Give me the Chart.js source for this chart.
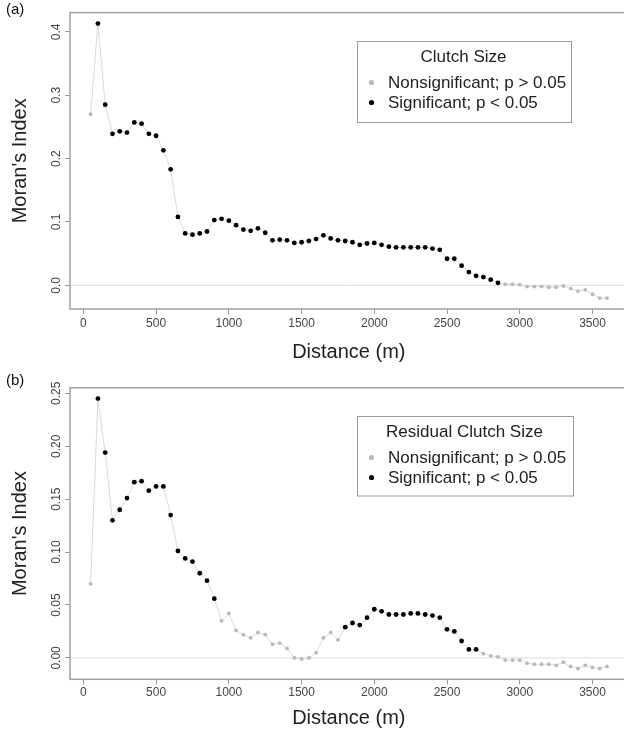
<!DOCTYPE html>
<html>
<head>
<meta charset="utf-8">
<script src="https://cdn.jsdelivr.net/npm/chart.js@4.4.1/dist/chart.umd.min.js"></script>
<style>
  html, body { margin: 0; padding: 0; background: #fff; overflow: hidden; }
  #wrap { position: relative; width: 624px; height: 731px; overflow: hidden; }
  canvas { position: absolute; left: 0; }
  #cA { top: 0; }
  #cB { top: 365px; }
</style>
</head>
<body>
<div id="wrap">
  <canvas id="cA" width="632" height="365"></canvas>
  <canvas id="cB" width="632" height="366"></canvas>
</div>
<script>
// distance classes (m)
const distances = [
  50, 100, 150, 200, 250, 300, 350, 400, 450, 500, 550, 600,
  650, 700, 750, 800, 850, 900, 950, 1000, 1050, 1100, 1150, 1200,
  1250, 1300, 1350, 1400, 1450, 1500, 1550, 1600, 1650, 1700, 1750, 1800,
  1850, 1900, 1950, 2000, 2050, 2100, 2150, 2200, 2250, 2300, 2350, 2400,
  2450, 2500, 2550, 2600, 2650, 2700, 2750, 2800, 2850, 2900, 2950, 3000,
  3050, 3100, 3150, 3200, 3250, 3300, 3350, 3400, 3450, 3500, 3550, 3600
]

// (a) Clutch size
const moranA = [
  0.270, 0.413, 0.285, 0.239, 0.243, 0.241, 0.257, 0.255, 0.239, 0.236, 0.213, 0.183,
  0.108, 0.082, 0.080, 0.082, 0.085, 0.103, 0.105, 0.102, 0.095, 0.088, 0.086, 0.090,
  0.083, 0.071, 0.072, 0.071, 0.067, 0.068, 0.070, 0.073, 0.079, 0.074, 0.071, 0.070,
  0.068, 0.064, 0.066, 0.067, 0.064, 0.061, 0.060, 0.060, 0.060, 0.060, 0.060, 0.058,
  0.056, 0.042, 0.042, 0.031, 0.021, 0.015, 0.013, 0.009, 0.004, 0.002, 0.002, 0.001,
  -0.002, -0.002, -0.002, -0.003, -0.003, -0.001, -0.005, -0.009, -0.007, -0.014, -0.020, -0.020
]
const sigA = [
  0, 1, 1, 1, 1, 1, 1, 1, 1, 1, 1, 1,
  1, 1, 1, 1, 1, 1, 1, 1, 1, 1, 1, 1,
  1, 1, 1, 1, 1, 1, 1, 1, 1, 1, 1, 1,
  1, 1, 1, 1, 1, 1, 1, 1, 1, 1, 1, 1,
  1, 1, 1, 1, 1, 1, 1, 1, 1, 0, 0, 0,
  0, 0, 0, 0, 0, 0, 0, 0, 0, 0, 0, 0
]

// (b) Residual clutch size
const moranB = [
  0.070, 0.245, 0.194, 0.130, 0.140, 0.151, 0.166, 0.167, 0.158, 0.162, 0.162, 0.135,
  0.101, 0.094, 0.091, 0.080, 0.073, 0.056, 0.035, 0.042, 0.026, 0.022, 0.019, 0.024,
  0.022, 0.013, 0.014, 0.009, 0.000, -0.001, 0.000, 0.005, 0.019, 0.024, 0.017, 0.029,
  0.033, 0.031, 0.038, 0.046, 0.044, 0.041, 0.041, 0.041, 0.042, 0.042, 0.041, 0.040,
  0.038, 0.027, 0.025, 0.016, 0.008, 0.008, 0.004, 0.002, 0.001, -0.002, -0.002, -0.002,
  -0.005, -0.006, -0.006, -0.006, -0.007, -0.004, -0.008, -0.010, -0.007, -0.009, -0.010, -0.008
]
const sigB = [
  0, 1, 1, 1, 1, 1, 1, 1, 1, 1, 1, 1,
  1, 1, 1, 1, 1, 1, 0, 0, 0, 0, 0, 0,
  0, 0, 0, 0, 0, 0, 0, 0, 0, 0, 0, 1,
  1, 1, 1, 1, 1, 1, 1, 1, 1, 1, 1, 1,
  1, 1, 1, 1, 1, 1, 0, 0, 0, 0, 0, 0,
  0, 0, 0, 0, 0, 0, 0, 0, 0, 0, 0, 0
]

const xTicks = [0, 500, 1000, 1500, 2000, 2500, 3000, 3500]
const yTicksA = [0, 0.1, 0.2, 0.3, 0.4]
const yTickLabelsA = ['0.0', '0.1', '0.2', '0.3', '0.4']
const yTicksB = [0, 0.05, 0.10, 0.15, 0.20, 0.25]
const yTickLabelsB = ['0.00', '0.05', '0.10', '0.15', '0.20', '0.25']
const legendLabels = ['Nonsignificant; p > 0.05', 'Significant; p < 0.05']

const FONT = '"Liberation Sans", Arial, Helvetica, sans-serif'
const GREY_PT = '#b9b9b9'

// box, zero line, rotated y tick labels, panel tag and legend
const decor = {
  id: 'decor',
  beforeDatasetsDraw(chart) {
    const { ctx, chartArea: a, scales: { y } } = chart
    const zy = y.getPixelForValue(0)
    ctx.save()
    ctx.strokeStyle = '#dedede'
    ctx.lineWidth = 1
    ctx.beginPath()
    ctx.moveTo(a.left, zy)
    ctx.lineTo(a.right, zy)
    ctx.stroke()
    ctx.restore()
  },
  afterDraw(chart, args, o) {
    const { ctx, chartArea: a, scales: { y } } = chart
    ctx.save()
    // plot frame
    ctx.strokeStyle = '#a0a0a0'
    ctx.lineWidth = 1.5
    ctx.strokeRect(a.left, a.top, a.right - a.left, a.bottom - a.top)

    // y tick labels, rotated like R's las = 0
    ctx.fillStyle = '#444'
    ctx.font = '12px ' + FONT
    ctx.textAlign = 'center'
    ctx.textBaseline = 'middle'
    o.yTicks.forEach((v, i) => {
      ctx.save()
      ctx.translate(57, y.getPixelForValue(v))
      ctx.rotate(-Math.PI / 2)
      ctx.fillText(o.yLabels[i], 0, 0)
      ctx.restore()
    })

    // panel tag
    ctx.fillStyle = '#111'
    ctx.font = '15px ' + FONT
    ctx.textAlign = 'left'
    ctx.fillText(o.tag, 6, o.tagY)

    // legend
    const L = o.legend
    ctx.strokeStyle = '#9a9a9a'
    ctx.lineWidth = 1
    ctx.fillStyle = '#fff'
    ctx.fillRect(L.x, L.y, L.w, L.h)
    ctx.strokeRect(L.x, L.y, L.w, L.h)
    ctx.fillStyle = '#222'
    ctx.font = '17px ' + FONT
    ctx.textAlign = 'center'
    ctx.fillText(L.title, L.x + L.w / 2 - 1, L.y + 16)
    ctx.textAlign = 'left'
    const colors = [GREY_PT, '#000']
    legendLabels.forEach((t, i) => {
      const ry = L.y + 41 + i * 20
      ctx.fillStyle = colors[i]
      ctx.beginPath()
      ctx.arc(L.x + 14, ry, 2.6, 0, Math.PI * 2)
      ctx.fill()
      ctx.fillStyle = '#222'
      ctx.fillText(t, L.x + 30.5, ry + 1)
    })
    ctx.restore()
  }
}

function makePanel(canvasId, values, sig, yMin, yMax, top, axisH, tickPad, yTicks, yLabels, opts) {
  const pts = distances.map((d, i) => ({ x: d, y: values[i] }))
  return new Chart(document.getElementById(canvasId), {
    type: 'scatter',
    data: {
      datasets: [{
        data: pts,
        showLine: true,
        borderColor: '#dadada',
        borderWidth: 1,
        pointBackgroundColor: sig.map(s => s ? '#000' : GREY_PT),
        pointBorderWidth: 0,
        pointRadius: sig.map(s => s ? 2.4 : 1.9)
      }]
    },
    options: {
      responsive: false,
      animation: false,
      devicePixelRatio: 1,
      events: [],
      layout: { padding: { top: top, right: 4.3, left: 0, bottom: 0 } },
      plugins: {
        legend: { display: false },
        tooltip: { enabled: false },
        decor: Object.assign({ yTicks: yTicks, yLabels: yLabels }, opts)
      },
      scales: {
        x: {
          type: 'linear',
          min: -92,
          max: 3742,
          afterBuildTicks: s => { s.ticks = xTicks.map(v => ({ value: v })) },
          afterFit: s => { s.height = axisH },
          border: { display: false },
          grid: { drawOnChartArea: false, drawTicks: true, tickLength: 5, color: '#999' },
          ticks: {
            color: '#444',
            font: { family: FONT, size: 12 },
            padding: tickPad,
            maxRotation: 0,
            callback: v => String(v)
          },
          title: {
            display: true,
            text: 'Distance (m)',
            color: '#222',
            font: { family: FONT, size: 20, lineHeight: 1 },
            padding: { top: 0, bottom: 3 }
          }
        },
        y: {
          type: 'linear',
          min: yMin,
          max: yMax,
          afterBuildTicks: s => { s.ticks = yTicks.map(v => ({ value: v })) },
          afterFit: s => { s.width = 70 },
          border: { display: false },
          grid: { drawOnChartArea: false, drawTicks: true, tickLength: 5, color: '#999' },
          ticks: { display: false },
          title: {
            display: true,
            text: "Moran's Index",
            color: '#222',
            font: { family: FONT, size: 20, lineHeight: 1 },
            padding: { top: 10, bottom: 0 }
          }
        }
      }
    },
    plugins: [decor]
  })
}

makePanel('cA', moranA, sigA, -0.0373, 0.4303, 12.6, 56, 2, yTicksA, yTickLabelsA, {
  tag: '(a)', tagY: 10,
  legend: { x: 357.5, y: 41.5, w: 214, h: 81, title: 'Clutch Size' }
})

makePanel('cB', moranB, sigB, -0.0202, 0.2552, 22.8, 51.7, 1, yTicksB, yTickLabelsB, {
  tag: '(b)', tagY: 16,
  legend: { x: 357.5, y: 51.5, w: 216, h: 79.5, title: 'Residual Clutch Size' }
})
</script>
</body>
</html>
